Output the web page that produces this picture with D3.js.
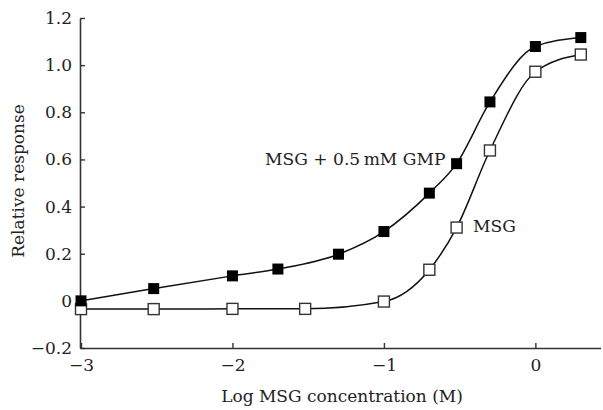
<!DOCTYPE html>
<html>
<head>
<meta charset="utf-8">
<script src="https://cdn.jsdelivr.net/npm/d3@7"></script>
<style>
  body { margin: 0; background: #fff; }
  svg text { font-family: "DejaVu Serif", serif; fill: #222; }
</style>
</head>
<body>
<div id="chart"></div>
<script>
// MSG + 0.5 mM GMP (filled squares)
const gmpX = [-3, -2.52, -2, -1.7, -1.3, -1, -0.7, -0.52, -0.3, 0, 0.3];
const gmpY = [0.0, 0.052, 0.106, 0.135, 0.198, 0.294, 0.457, 0.582, 0.844, 1.079, 1.117];
// MSG alone (open squares)
const msgX = [-3, -2.52, -2, -1.52, -1, -0.7, -0.52, -0.3, 0, 0.3];
const msgY = [-0.035, -0.035, -0.034, -0.034, -0.003, 0.132, 0.311, 0.638, 0.972, 1.045];

const xTicks = [-3, -2, -1, 0];
const yTicks = [-0.2, 0, 0.2, 0.4, 0.6, 0.8, 1.0, 1.2];

const width = 603, height = 410;
const serif = "'DejaVu Serif', serif";

const svg = d3.select("#chart")
    .append("svg")
    .attr("width", width)
    .attr("height", height)
    .attr("font-family", serif);

const x = d3.scaleLinear()
    .domain([-3, 0.43])
    .range([81, 600.5]);

const y = d3.scaleLinear()
    .domain([-0.2, 1.2])
    .range([348, 18]);

// axes
const xAxis = svg.append("g")
    .attr("transform", `translate(0,${y(-0.2)})`)
    .call(d3.axisBottom(x)
        .tickValues(xTicks)
        .tickSizeInner(-5)
        .tickSizeOuter(0)
        .tickPadding(11)
        .tickFormat(d => d < 0 ? "\u2212" + Math.abs(d) : d));

const yAxis = svg.append("g")
    .attr("transform", `translate(${x(-3) - 1},0)`)
    .call(d3.axisLeft(y)
        .tickValues(yTicks)
        .tickSizeInner(-5)
        .tickSizeOuter(0)
        .tickPadding(8)
        .tickFormat(d => d === 0 ? "0" : (d < 0 ? "\u2212" : "") + Math.abs(d).toFixed(1)));

[xAxis, yAxis].forEach(g => {
    g.attr("font-family", serif);
    g.select(".domain").attr("stroke", "#333").attr("stroke-width", 1.6);
    g.selectAll(".tick line").attr("stroke", "#333").attr("stroke-width", 1.4);
    g.selectAll(".tick text").attr("font-size", 17).attr("fill", "#222");
});

// axis titles
svg.append("text")
    .attr("x", 342)
    .attr("y", 402)
    .attr("text-anchor", "middle")
    .attr("font-size", 17)
    .text("Log MSG concentration (M)");

svg.append("text")
    .attr("transform", "rotate(-90)")
    .attr("x", -181)
    .attr("y", 24)
    .attr("text-anchor", "middle")
    .attr("font-size", 17)
    .text("Relative response");

// curves
const line = d3.line()
    .x(d => x(d[0]))
    .y(d => y(d[1]))
    .curve(d3.curveMonotoneX);

const gmpData = gmpX.map((v, i) => [v, gmpY[i]]);
const msgData = msgX.map((v, i) => [v, msgY[i]]);

[gmpData, msgData].forEach(data => {
    svg.append("path")
        .datum(data)
        .attr("d", line)
        .attr("fill", "none")
        .attr("stroke", "#111")
        .attr("stroke-width", 1.5);
});

const size = 11;

svg.selectAll(".msg")
    .data(msgData)
    .enter().append("rect")
    .attr("class", "msg")
    .attr("x", d => x(d[0]) - size / 2)
    .attr("y", d => y(d[1]) - size / 2)
    .attr("width", size)
    .attr("height", size)
    .attr("fill", "#fff")
    .attr("stroke", "#333")
    .attr("stroke-width", 1.4);

svg.selectAll(".gmp")
    .data(gmpData)
    .enter().append("rect")
    .attr("class", "gmp")
    .attr("x", d => x(d[0]) - size / 2)
    .attr("y", d => y(d[1]) - size / 2)
    .attr("width", size)
    .attr("height", size)
    .attr("fill", "#000");

// series labels
svg.append("text")
    .attr("x", 265)
    .attr("y", 165)
    .attr("font-size", 17.1)
    .text("MSG + 0.5\u2009mM GMP");

svg.append("text")
    .attr("x", 473)
    .attr("y", 232)
    .attr("font-size", 17.1)
    .text("MSG");
</script>
</body>
</html>
